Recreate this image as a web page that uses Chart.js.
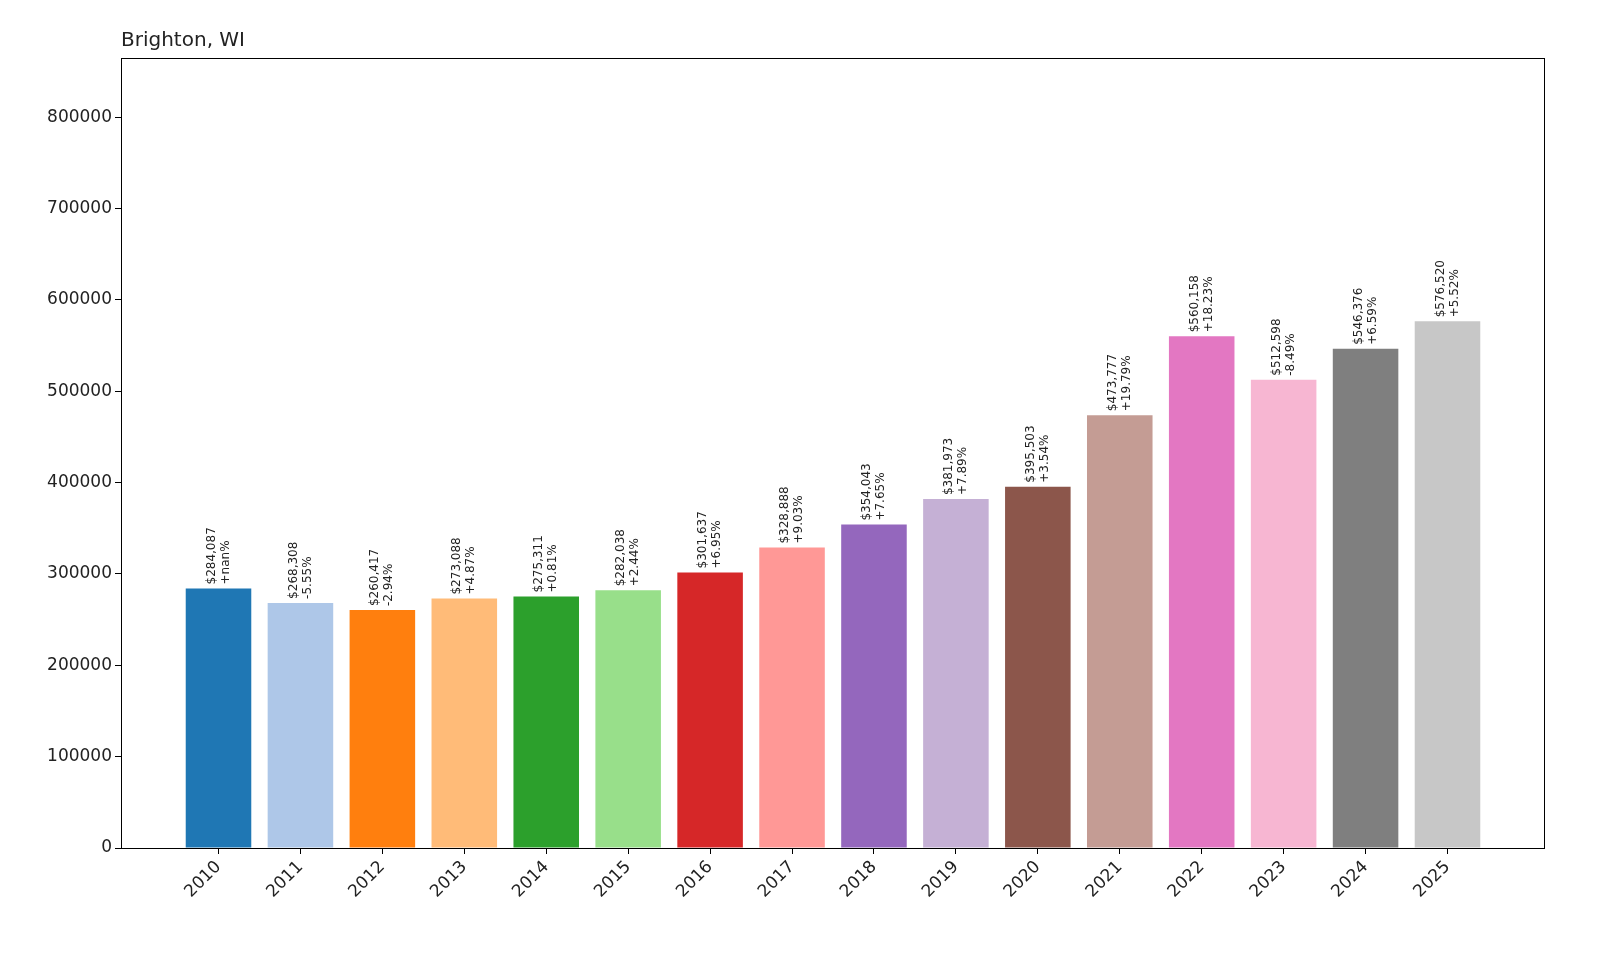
<!DOCTYPE html>
<html><head><meta charset="utf-8">
<script src="https://cdn.jsdelivr.net/npm/chart.js@4"></script>
<style>body{margin:0;background:#fff}#wrap{width:1600px;height:960px}</style>
</head><body><div id="wrap"><canvas id="c" width="1600" height="960"></canvas></div>
<script>
const YEARS = ['2010','2011','2012','2013','2014','2015','2016','2017','2018','2019','2020','2021','2022','2023','2024','2025'];
const VALUES = [284087,268308,260417,273088,275311,282038,301637,328888,354043,381973,395503,473777,560158,512598,546376,576520];
const CHANGES = ['+nan%','-5.55%','-2.94%','+4.87%','+0.81%','+2.44%','+6.95%','+9.03%','+7.65%','+7.89%','+3.54%','+19.79%','+18.23%','-8.49%','+6.59%','+5.52%'];
const COLORS = ['#1f77b4','#aec7e8','#ff7f0e','#ffbb78','#2ca02c','#98df8a','#d62728','#ff9896','#9467bd','#c5b0d5','#8c564b','#c49c94','#e377c2','#f7b6d2','#7f7f7f','#c7c7c7'];
const FONT = "'DejaVu Sans', sans-serif";

const deco = {
  id: 'deco',
  afterDatasetsDraw(chart) {
    const { ctx, chartArea: a } = chart;
    const meta = chart.getDatasetMeta(0);
    ctx.save();
    ctx.fillStyle = '#222';
    ctx.font = '12px ' + FONT;
    meta.data.forEach((bar, i) => {
      ctx.save();
      ctx.translate(bar.x, bar.y - 4);
      ctx.rotate(-Math.PI / 2);
      ctx.textAlign = 'left';
      ctx.textBaseline = 'bottom';
      ctx.fillText('$' + VALUES[i].toLocaleString('en-US'), 0, -1);
      ctx.textBaseline = 'top';
      ctx.fillText(CHANGES[i], 0, 1);
      ctx.restore();
    });
    ctx.strokeStyle = '#000';
    ctx.lineWidth = 1;
    ctx.strokeRect(a.left + 0.5, a.top + 0.5, a.right - a.left - 1, a.bottom - a.top);
    ctx.font = '20px ' + FONT;
    ctx.textAlign = 'left';
    ctx.textBaseline = 'alphabetic';
    ctx.fillText('Brighton, WI', a.left, a.top - 12);
    ctx.restore();
  }
};

new Chart(document.getElementById('c'), {
  type: 'bar',
  data: { datasets: [{ data: VALUES.map((v, i) => ({ x: i, y: v })), backgroundColor: COLORS, barPercentage: 0.8, categoryPercentage: 1 }] },
  options: {
    responsive: false, animation: false,
    layout: { padding: { top: 58, right: 55, left: 0, bottom: 0 } },
    plugins: { legend: { display: false }, tooltip: { enabled: false } },
    scales: {
      x: {
        type: 'linear', min: -1.19, max: 16.19, offset: false,
        afterBuildTicks: (s) => { s.ticks = YEARS.map((_, i) => ({ value: i })); },
        afterFit: (s) => { s.height = 112; },
        grid: { drawOnChartArea: false, offset: false, tickLength: 6, color: '#000' },
        border: { display: false },
        ticks: { callback: (v) => YEARS[v], minRotation: 45, maxRotation: 45, color: '#222', font: { size: 17, family: FONT } }
      },
      y: {
        min: 0, max: 864780,
        afterBuildTicks: (s) => { s.ticks = [0,100000,200000,300000,400000,500000,600000,700000,800000].map(v => ({ value: v })); },
        afterFit: (s) => { s.width = 121; },
        grid: { drawOnChartArea: false, tickLength: 6, color: '#000' },
        border: { display: false },
        ticks: { callback: (v) => String(v), color: '#222', font: { size: 17, family: FONT } }
      }
    }
  },
  plugins: [deco]
});
</script></body></html>
